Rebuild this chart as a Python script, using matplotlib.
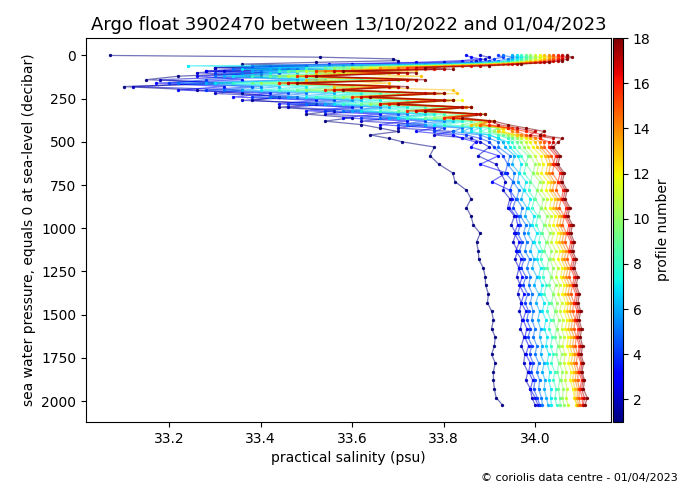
import matplotlib
matplotlib.use("Agg")
import matplotlib.pyplot as plt
from matplotlib import cm, colors

# Pressure levels (decibar) shared by all profiles
PRES_UPPER = [0, 10, 20, 30, 40, 50, 60, 70, 80, 90, 100, 120, 140, 160, 180, 200,
              220, 240, 260, 280, 300, 320, 340, 360, 380, 400, 420, 440, 460, 480, 500]
PRES_DEEP = [530, 580, 630, 680, 730, 780, 830, 880, 930, 980, 1030, 1080, 1130, 1180,
             1230, 1280, 1330, 1380, 1430, 1480, 1530, 1580, 1630, 1680, 1730, 1780,
             1830, 1880, 1930, 1980, 2020]

# Practical salinity (psu) per profile, upper then deep levels
PSAL_01 = [33.07, 33.53, 33.69, 33.70, 33.52, 33.36, 33.50, 33.30, 33.46, 33.28, 33.40, 33.22, 33.15, 33.34, 33.10, 33.26,
           33.36, 33.44, 33.38, 33.52, 33.44, 33.56, 33.50, 33.60, 33.54, 33.62, 33.66, 33.70, 33.64, 33.68, 33.71,
           33.78, 33.77, 33.79, 33.82, 33.825, 33.85, 33.86, 33.85, 33.86, 33.865, 33.88, 33.872, 33.876, 33.877, 33.887,
           33.891, 33.892, 33.898, 33.896, 33.905, 33.909, 33.905, 33.913, 33.911, 33.905, 33.913, 33.909, 33.909, 33.911, 33.915, 33.928]
PSAL_02 = [33.88, 33.90, 33.89, 33.87, 33.80, 33.60, 33.42, 33.30, 33.48, 33.32, 33.26, 33.40, 33.18, 33.30, 33.12, 33.36,
           33.30, 33.48, 33.36, 33.56, 33.46, 33.62, 33.54, 33.70, 33.62, 33.76, 33.70, 33.82, 33.78, 33.86, 33.88,
           33.90, 33.875, 33.915, 33.925, 33.935, 33.93, 33.945, 33.94, 33.955, 33.948, 33.958, 33.952, 33.962, 33.956, 33.965,
           33.96, 33.968, 33.962, 33.97, 33.966, 33.972, 33.968, 33.976, 33.97, 33.978, 33.975, 33.984, 33.98, 33.99, 33.993, 34.0]
PSAL_03 = [33.85, 33.86, 33.88, 33.84, 33.74, 33.55, 33.38, 33.50, 33.34, 33.28, 33.44, 33.26, 33.36, 33.17, 33.32, 33.22,
           33.42, 33.34, 33.52, 33.44, 33.60, 33.50, 33.66, 33.58, 33.72, 33.66, 33.78, 33.74, 33.82, 33.84, 33.87,
           33.86, 33.92, 33.88, 33.938, 33.905, 33.945, 33.95, 33.944, 33.958, 33.962, 33.955, 33.966, 33.958, 33.97, 33.964,
           33.972, 33.966, 33.976, 33.97, 33.98, 33.974, 33.982, 33.978, 33.986, 33.98, 33.99, 33.986, 33.995, 33.99, 34.0, 34.006]
PSAL_04 = [33.92, 33.93, 33.91, 33.90, 33.86, 33.70, 33.50, 33.36, 33.54, 33.40, 33.30, 33.46, 33.28, 33.20, 33.38, 33.28,
           33.46, 33.38, 33.56, 33.46, 33.62, 33.54, 33.70, 33.62, 33.76, 33.70, 33.80, 33.78, 33.85, 33.88, 33.90,
           33.91, 33.93, 33.94, 33.935, 33.952, 33.945, 33.958, 33.952, 33.964, 33.968, 33.962, 33.972, 33.966, 33.976, 33.97,
           33.98, 33.974, 33.984, 33.978, 33.986, 33.982, 33.99, 33.985, 33.993, 33.988, 33.996, 33.992, 34.0, 33.997, 34.005, 34.01]
PSAL_05 = [33.93, 33.95, 33.94, 33.92, 33.88, 33.76, 33.58, 33.42, 33.34, 33.52, 33.36, 33.30, 33.48, 33.22, 33.40, 33.32,
           33.50, 33.42, 33.60, 33.50, 33.66, 33.58, 33.72, 33.66, 33.80, 33.72, 33.84, 33.82, 33.88, 33.90, 33.92,
           33.92, 33.945, 33.94, 33.955, 33.952, 33.965, 33.96, 33.972, 33.968, 33.98, 33.975, 33.982, 33.978, 33.988, 33.982,
           33.99, 33.986, 33.994, 33.99, 33.996, 33.993, 34.0, 33.996, 34.004, 34.0, 34.008, 34.004, 34.01, 34.008, 34.014, 34.016]
PSAL_06 = [33.95, 33.96, 33.95, 33.94, 33.90, 33.78, 33.62, 33.44, 33.56, 33.38, 33.48, 33.32, 33.52, 33.28, 33.44, 33.36,
           33.56, 33.46, 33.62, 33.54, 33.68, 33.60, 33.76, 33.68, 33.82, 33.76, 33.86, 33.84, 33.90, 33.92, 33.93,
           33.935, 33.955, 33.95, 33.965, 33.962, 33.975, 33.97, 33.982, 33.978, 33.99, 33.984, 33.995, 33.99, 33.998, 33.994,
           34.004, 33.998, 34.008, 34.002, 34.01, 34.006, 34.012, 34.01, 34.016, 34.012, 34.02, 34.016, 34.022, 34.02, 34.025, 34.028]
PSAL_07 = [33.96, 33.97, 33.96, 33.95, 33.92, 33.82, 33.24, 33.50, 33.36, 33.58, 33.42, 33.34, 33.54, 33.30, 33.50, 33.40,
           33.62, 33.50, 33.66, 33.56, 33.72, 33.62, 33.78, 33.70, 33.84, 33.78, 33.88, 33.86, 33.90, 33.92, 33.94,
           33.945, 33.962, 33.97, 33.966, 33.98, 33.976, 33.99, 33.985, 33.998, 33.994, 34.004, 33.998, 34.008, 34.004, 34.012,
           34.008, 34.016, 34.012, 34.02, 34.016, 34.024, 34.02, 34.027, 34.024, 34.03, 34.026, 34.032, 34.03, 34.035, 34.034, 34.036]
PSAL_08 = [33.97, 33.98, 33.97, 33.96, 33.93, 33.84, 33.68, 33.50, 33.62, 33.44, 33.56, 33.38, 33.62, 33.34, 33.56, 33.44,
           33.66, 33.52, 33.72, 33.58, 33.76, 33.66, 33.80, 33.72, 33.86, 33.80, 33.90, 33.88, 33.92, 33.94, 33.95,
           33.955, 33.97, 33.98, 33.976, 33.99, 33.986, 33.998, 33.994, 34.006, 34.002, 34.012, 34.008, 34.016, 34.012, 34.02,
           34.017, 34.025, 34.02, 34.03, 34.026, 34.034, 34.03, 34.038, 34.034, 34.04, 34.036, 34.043, 34.04, 34.046, 34.044, 34.047]
PSAL_09 = [33.98, 33.99, 33.98, 33.97, 33.95, 33.86, 33.70, 33.54, 33.64, 33.46, 33.60, 33.42, 33.66, 33.38, 33.60, 33.48,
           33.70, 33.56, 33.76, 33.62, 33.80, 33.70, 33.84, 33.76, 33.88, 33.84, 33.92, 33.90, 33.93, 33.95, 33.96,
           33.965, 33.985, 33.98, 33.995, 33.99, 34.005, 34.0, 34.012, 34.008, 34.02, 34.015, 34.025, 34.02, 34.03, 34.026,
           34.036, 34.03, 34.04, 34.036, 34.044, 34.04, 34.047, 34.043, 34.05, 34.046, 34.052, 34.049, 34.054, 34.051, 34.054, 34.055]
PSAL_10 = [33.99, 34.00, 33.99, 33.98, 33.96, 33.88, 33.74, 33.56, 33.68, 33.48, 33.62, 33.44, 33.70, 33.40, 33.64, 33.50,
           33.74, 33.58, 33.80, 33.64, 33.82, 33.72, 33.86, 33.78, 33.89, 33.86, 33.92, 33.91, 33.94, 33.96, 33.97,
           33.975, 33.99, 34.0, 33.996, 34.01, 34.005, 34.018, 34.014, 34.026, 34.022, 34.032, 34.027, 34.036, 34.032, 34.04,
           34.036, 34.045, 34.04, 34.048, 34.045, 34.052, 34.048, 34.055, 34.052, 34.058, 34.054, 34.06, 34.057, 34.062, 34.06, 34.063]
PSAL_11 = [34.00, 34.01, 34.00, 33.99, 33.97, 33.90, 33.76, 33.60, 33.70, 33.50, 33.66, 33.46, 33.72, 33.44, 33.68, 33.54,
           33.78, 33.60, 33.82, 33.66, 33.84, 33.74, 33.88, 33.80, 33.90, 33.87, 33.93, 33.92, 33.95, 33.97, 33.98,
           33.985, 34.0, 34.008, 34.004, 34.018, 34.014, 34.026, 34.022, 34.034, 34.03, 34.04, 34.036, 34.045, 34.04, 34.05,
           34.046, 34.054, 34.05, 34.058, 34.054, 34.061, 34.058, 34.064, 34.06, 34.066, 34.063, 34.068, 34.066, 34.07, 34.068, 34.072]
PSAL_12 = [34.01, 34.02, 34.01, 34.00, 33.98, 33.91, 33.78, 33.64, 33.72, 33.52, 33.68, 33.48, 33.74, 33.46, 33.70, 33.56,
           33.80, 33.62, 33.84, 33.68, 33.86, 33.76, 33.89, 33.82, 33.91, 33.88, 33.94, 33.93, 33.96, 33.98, 33.99,
           33.995, 34.012, 34.018, 34.014, 34.028, 34.024, 34.036, 34.032, 34.044, 34.04, 34.05, 34.046, 34.055, 34.05, 34.06,
           34.056, 34.064, 34.06, 34.067, 34.064, 34.07, 34.066, 34.073, 34.07, 34.076, 34.073, 34.079, 34.077, 34.083, 34.086, 34.09]
PSAL_13 = [34.02, 34.03, 34.02, 34.01, 33.98, 33.92, 33.80, 33.78, 33.60, 33.74, 33.52, 33.75, 33.50, 33.68, 33.56, 33.82,
           33.83, 33.60, 33.78, 33.66, 33.84, 33.74, 33.88, 33.80, 33.90, 33.86, 33.93, 33.92, 33.96, 33.99, 34.00,
           34.005, 34.022, 34.028, 34.024, 34.036, 34.032, 34.044, 34.04, 34.052, 34.048, 34.057, 34.053, 34.062, 34.058, 34.066,
           34.062, 34.07, 34.066, 34.073, 34.07, 34.076, 34.073, 34.079, 34.076, 34.082, 34.079, 34.085, 34.082, 34.088, 34.087, 34.092]
PSAL_14 = [34.03, 34.04, 34.03, 34.02, 33.99, 33.93, 33.82, 33.66, 33.74, 33.54, 33.70, 33.50, 33.72, 33.48, 33.68, 33.58,
           33.78, 33.64, 33.82, 33.70, 33.85, 33.76, 33.88, 33.82, 33.91, 33.88, 33.94, 33.95, 33.97, 34.00, 34.01,
           34.012, 34.028, 34.034, 34.03, 34.042, 34.038, 34.05, 34.046, 34.058, 34.054, 34.063, 34.059, 34.068, 34.064, 34.072,
           34.068, 34.076, 34.072, 34.079, 34.076, 34.082, 34.079, 34.085, 34.082, 34.088, 34.085, 34.09, 34.088, 34.093, 34.092, 34.095]
PSAL_15 = [34.04, 34.05, 34.04, 34.03, 34.00, 33.94, 33.84, 33.70, 33.76, 33.56, 33.72, 33.50, 33.74, 33.46, 33.70, 33.56,
           33.80, 33.62, 33.78, 33.66, 33.86, 33.74, 33.88, 33.80, 33.90, 33.88, 33.95, 33.96, 33.98, 34.01, 34.02,
           34.02, 34.036, 34.042, 34.038, 34.05, 34.046, 34.057, 34.053, 34.064, 34.06, 34.069, 34.065, 34.074, 34.07, 34.078,
           34.074, 34.082, 34.078, 34.085, 34.082, 34.088, 34.085, 34.09, 34.088, 34.093, 34.09, 34.095, 34.093, 34.097, 34.096, 34.099]
PSAL_16 = [34.05, 34.06, 34.05, 34.04, 34.01, 33.95, 33.86, 33.72, 33.78, 33.52, 33.70, 33.48, 33.72, 33.44, 33.68, 33.54,
           33.76, 33.60, 33.80, 33.68, 33.84, 33.72, 33.87, 33.80, 33.90, 33.90, 33.94, 33.98, 34.02, 34.01, 34.03,
           34.03, 34.045, 34.04, 34.055, 34.05, 34.062, 34.058, 34.068, 34.064, 34.074, 34.07, 34.078, 34.074, 34.082, 34.078,
           34.086, 34.082, 34.089, 34.086, 34.092, 34.088, 34.095, 34.091, 34.097, 34.094, 34.10, 34.096, 34.102, 34.098, 34.103, 34.104]
PSAL_17 = [34.06, 34.07, 34.06, 34.05, 34.02, 33.96, 33.88, 33.74, 33.80, 33.56, 33.72, 33.50, 33.74, 33.46, 33.70, 33.56,
           33.78, 33.62, 33.80, 33.66, 33.84, 33.74, 33.88, 33.82, 33.90, 33.92, 33.96, 34.00, 33.99, 34.04, 34.04,
           34.035, 34.05, 34.046, 34.06, 34.056, 34.066, 34.062, 34.072, 34.068, 34.078, 34.074, 34.082, 34.078, 34.086, 34.082,
           34.09, 34.086, 34.093, 34.09, 34.096, 34.092, 34.098, 34.095, 34.10, 34.097, 34.103, 34.10, 34.105, 34.102, 34.108, 34.106]
PSAL_18 = [34.07, 34.08, 34.07, 34.06, 34.03, 33.97, 33.90, 33.76, 33.82, 33.58, 33.74, 33.52, 33.76, 33.48, 33.72, 33.58,
           33.80, 33.64, 33.82, 33.70, 33.86, 33.76, 33.89, 33.84, 33.91, 33.94, 33.98, 34.02, 34.01, 34.06, 34.05,
           34.04, 34.055, 34.05, 34.064, 34.06, 34.07, 34.066, 34.076, 34.072, 34.082, 34.078, 34.086, 34.082, 34.09, 34.086,
           34.094, 34.09, 34.097, 34.094, 34.10, 34.096, 34.102, 34.099, 34.104, 34.101, 34.106, 34.103, 34.108, 34.106, 34.114, 34.11]

PROFILES = [PSAL_01, PSAL_02, PSAL_03, PSAL_04, PSAL_05, PSAL_06, PSAL_07, PSAL_08, PSAL_09,
            PSAL_10, PSAL_11, PSAL_12, PSAL_13, PSAL_14, PSAL_15, PSAL_16, PSAL_17, PSAL_18]
PROFILE_NUMBERS = list(range(1, 19))

X_TICKS = [33.2, 33.4, 33.6, 33.8, 34.0]
Y_TICKS = [0, 250, 500, 750, 1000, 1250, 1500, 1750, 2000]
CBAR_TICKS = [2, 4, 6, 8, 10, 12, 14, 16, 18]

pres = PRES_UPPER + PRES_DEEP

fig = plt.figure(figsize=(6.99, 4.91), dpi=100)
ax = fig.add_axes([86 / 699, 69 / 491, 525 / 699, 384 / 491])
cax = fig.add_axes([613 / 699, 69 / 491, 10 / 699, 384 / 491])

norm = colors.Normalize(vmin=1, vmax=18)
cmap = matplotlib.colormaps["jet"]

for num, sal in zip(PROFILE_NUMBERS, PROFILES):
    c = cmap(norm(num))
    ax.plot(sal, pres, "-", color=c, lw=0.9, alpha=0.55)
    ax.plot(sal, pres, "o", color=c, ms=2.4, mew=0, alpha=0.95)

ax.invert_yaxis()
ax.set_xticks(X_TICKS)
ax.set_yticks(Y_TICKS)
ax.set_xlabel("practical salinity (psu)", fontsize=10)
ax.set_ylabel("sea water pressure, equals 0 at sea-level (decibar)", fontsize=10)
ax.set_title("Argo float 3902470 between 13/10/2022 and 01/04/2023", fontsize=13)

sm = cm.ScalarMappable(norm=norm, cmap=cmap)
cb = fig.colorbar(sm, cax=cax, ticks=CBAR_TICKS)
cb.set_label("profile number", fontsize=10)
cb.outline.set_linewidth(0.8)

fig.text(678 / 699, 1 - 478 / 491, "\u00a9 coriolis data centre - 01/04/2023",
         ha="right", va="center", fontsize=8)

fig.savefig("out.png", dpi=100)
